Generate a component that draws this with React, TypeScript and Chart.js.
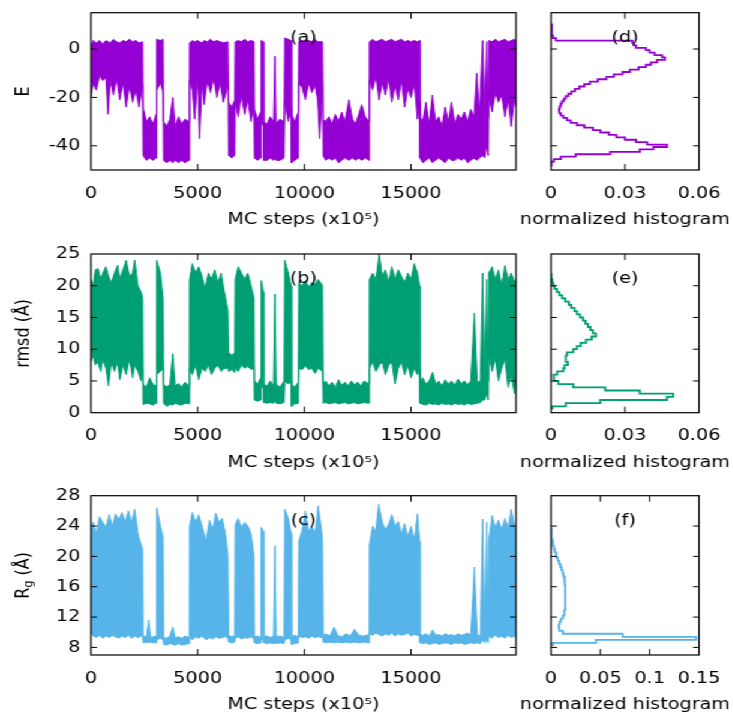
import React, { useEffect, useRef } from 'react';
import { Chart, registerables } from 'chart.js';
Chart.register(...registerables);

// ---------------- data ----------------
const STEP_TICKS = [0, 5000, 10000, 15000];
const STEP_MAX = 19920;
const E_TICKS = [-40, -20, 0];
const RMSD_TICKS = [0, 5, 10, 15, 20, 25];
const RG_TICKS = [8, 12, 16, 20, 24, 28];
const HIST_TICKS_DE = [0, 0.03, 0.06];
const HIST_TICKS_F = [0, 0.05, 0.1, 0.15];

// [MC step, upper envelope, lower envelope]
const E_TRACE: number[][] = [
  [0, 1, -20], [100, 3.5, -14], [250, 2.5, -17], [400, 3.5, -11], [550, 2, -13], [700, 3.5, -12],
  [800, 3, -27], [900, 2.5, -13], [1050, 4, -19], [1200, 3, -12], [1350, 2.5, -21], [1500, 3.5, -14],
  [1650, 3, -24], [1800, 4, -15], [1950, 3, -22], [2100, 3.5, -17], [2250, 2.5, -24], [2420, 3, -15],
  [2440, -24, -44], [2600, -30, -46], [2750, -28, -45], [2900, -31, -46], [3050, -27, -45],
  [3080, 4, -17], [3250, 3.5, -14], [3380, 4, -18],
  [3400, -30, -46], [3550, -32, -47], [3700, -29, -46], [3830, -20, -47], [3950, -32, -46], [4100, -28, -47],
  [4250, -31, -46], [4400, -29, -47], [4600, -30, -46],
  [4620, 2.5, -13], [4750, 3.5, -17], [4860, 3, -29], [5000, 3.5, -12], [5090, 3, -37], [5200, 2.5, -14],
  [5300, 3.5, -23], [5450, 3, -13], [5600, 4, -18], [5750, 3, -12], [5900, 3.5, -20], [6050, 3, -14],
  [6200, 2.5, -22], [6420, 3, -15],
  [6450, -22, -44], [6600, -24, -45], [6740, -21, -44],
  [6760, 3, -22], [6900, 3.5, -28], [7050, 3, -19], [7200, 4, -27], [7350, 3, -21], [7500, 3.5, -30], [7640, 3, -24],
  [7660, -25, -45], [7800, -29, -46], [7960, -26, -45],
  [7980, 3.5, -30], [8080, 3, -32],
  [8100, -30, -46], [8250, -31, -46], [8400, -28, -45], [8560, -30, -46], [8620, -3, -45], [8680, -31, -46],
  [8850, -29, -46], [9050, -30, -45],
  [9080, 4.5, -22], [9250, 4, -30], [9380, 3.5, -25],
  [9400, -27, -47], [9550, -30, -46], [9720, -26, -45],
  [9740, 3, -14], [9900, 3.5, -16], [10050, 3, -21], [10200, 3.5, -14], [10350, 3, -18], [10500, 4, -15],
  [10620, 3, -21], [10720, 3, -37], [10850, 3, -15],
  [10880, -29, -44], [11000, -30, -46], [11150, -28, -45], [11300, -31, -46], [11450, -27, -45], [11600, -30, -47],
  [11750, -26, -46], [11900, -30, -45], [12090, -21, -46], [12250, -29, -45], [12400, -31, -46], [12550, -27, -45],
  [12690, -23, -46], [12850, -28, -45], [13030, -30, -46],
  [13050, 3, -13], [13200, 4, -17], [13350, 3, -11], [13500, 3.5, -21], [13650, 4, -14], [13800, 3, -19],
  [13950, 3.5, -12], [14100, 4, -22], [14250, 3, -15], [14400, 3.5, -21], [14550, 4, -13], [14700, 3, -24],
  [14850, 3.5, -16], [15000, 3, -20], [15150, 3.5, -14], [15300, 3, -29], [15400, 3.5, -22],
  [15420, -28, -45], [15550, -30, -47], [15700, -22, -46], [15850, -31, -45], [16000, -19, -47], [16150, -30, -46],
  [16300, -28, -45], [16450, -32, -46], [16600, -24, -47], [16750, -30, -45], [16900, -22, -46], [17050, -31, -46],
  [17200, -27, -45], [17350, -29, -46], [17500, -26, -45], [17650, -30, -47], [17800, -25, -46], [17950, -28, -45],
  [18080, -10, -46], [18200, -27, -45], [18357, 3.5, -44], [18450, -26, -45], [18550, 3, -40], [18620, -28, -44],
  [18640, 3.5, -20], [18800, 3, -26], [18950, 4, -18], [19100, 3, -22], [19250, 3.5, -19], [19400, 4, -28],
  [19550, 3, -21], [19700, 3.5, -32], [19850, 4, -20], [19920, 3, -24],
];

const RMSD_TRACE: number[][] = [
  [0, 21, 8], [100, 20, 9], [200, 22.5, 7.5], [330, 22.7, 8], [450, 21, 6.5], [560, 22, 8.5], [700, 23, 7],
  [820, 21.5, 4.2], [950, 20.5, 8], [1100, 22, 6.5], [1250, 23.2, 8], [1350, 21, 5.2], [1500, 22.5, 7.5],
  [1650, 24, 6], [1800, 21.5, 8.5], [1950, 22, 5.5], [2050, 24, 7.5], [2200, 20, 6.5], [2350, 19, 5], [2420, 18, 7],
  [2440, 4.5, 1.3], [2600, 4, 1.5], [2750, 5.5, 1.4], [2900, 4.5, 1.2], [3050, 4.2, 1.5],
  [3080, 24, 6], [3250, 22, 6.5], [3380, 18, 7],
  [3400, 4.5, 1.5], [3550, 4, 1.0], [3700, 4.5, 1.3], [3830, 9.3, 1.2], [3950, 4.2, 1.5], [4100, 4.6, 1.3],
  [4250, 4, 1.2], [4400, 4.8, 1.5], [4600, 4.2, 1.4],
  [4620, 21, 7], [4750, 23.5, 6], [4900, 22, 7.5], [5050, 23, 5.2], [5200, 21.5, 7], [5350, 19.5, 6.5],
  [5500, 22, 7.5], [5650, 21, 6], [5800, 22.5, 7], [5950, 20.5, 7.5], [6100, 22, 6.5], [6250, 19, 7], [6420, 16, 7],
  [6450, 9.5, 6.5], [6600, 9, 6.8], [6740, 9.5, 6.3],
  [6760, 21, 7], [6900, 23, 6.5], [7050, 22, 7.5], [7200, 21, 7], [7350, 22, 7.3], [7500, 20, 6.8], [7640, 18, 7],
  [7660, 5, 2], [7800, 4.5, 1.8], [7960, 5.5, 2],
  [7980, 20.8, 4], [8080, 19, 4],
  [8100, 4.5, 1.6], [8250, 4.2, 1.5], [8400, 5, 1.6], [8560, 4.3, 1.5], [8620, 18.7, 2], [8680, 4.5, 1.5],
  [8850, 4, 1.4], [9050, 5, 1.6],
  [9080, 24, 5], [9250, 22, 4.5], [9380, 20, 5],
  [9400, 4.5, 1.0], [9550, 4, 1.4], [9720, 4.8, 1.5],
  [9740, 20.5, 7], [9900, 20, 6.8], [10050, 20.8, 7.4], [10200, 19.8, 6.8], [10350, 20.5, 7], [10500, 20.3, 6.2],
  [10650, 21, 7], [10850, 20, 6.5],
  [10880, 4.5, 1.5], [11000, 5, 1.6], [11150, 4.2, 1.4], [11300, 4.8, 1.5], [11450, 4, 1.6], [11600, 5.2, 1.4],
  [11750, 4.3, 1.5], [11900, 4.8, 1.6], [12050, 4.2, 1.4], [12200, 5, 1.5], [12350, 4.4, 1.6], [12500, 4.8, 1.4],
  [12650, 4.2, 1.5], [12800, 5, 1.6], [13030, 4.5, 1.5],
  [13050, 21, 7], [13200, 22, 8], [13350, 21, 6.5], [13510, 25, 7.5], [13650, 21.5, 8], [13800, 22.5, 6],
  [13950, 20.5, 7.5], [14100, 23, 8], [14250, 21, 4.5], [14400, 22.5, 7], [14550, 21.5, 8], [14700, 20.5, 6],
  [14850, 22, 7.5], [15000, 21, 5.5], [15150, 23.5, 7], [15300, 22, 6], [15400, 20, 7],
  [15420, 4.5, 1.5], [15550, 5.5, 1.3], [15700, 4.5, 1.2], [15850, 5, 1.5], [16015, 6.4, 1.3], [16150, 4.5, 1.4],
  [16300, 5, 1.2], [16450, 4.2, 1.5], [16600, 5.2, 1.3], [16750, 4.5, 1.4], [16900, 5, 1.2], [17050, 4.3, 1.5],
  [17200, 5.3, 1.3], [17350, 4.6, 1.4], [17500, 5, 1.2], [17650, 4.4, 1.5], [17800, 5, 1.3], [17970, 15.7, 1.4],
  [18100, 4.8, 1.5], [18250, 5, 1.6], [18357, 22, 2], [18450, 5, 2], [18550, 21, 3], [18620, 5, 2],
  [18640, 22, 9], [18800, 23, 6.5], [18950, 21, 8.5], [19100, 22.5, 5], [19250, 20, 7], [19400, 23.2, 8.5],
  [19550, 21, 4], [19700, 22, 6], [19850, 20.5, 3], [19920, 21, 5],
];

const RG_TRACE: number[][] = [
  [0, 23.5, 10], [100, 24.5, 9.5], [250, 23, 9.3], [400, 25.2, 9.6], [550, 24.5, 9.2], [700, 23.8, 9.5],
  [850, 25.5, 9.3], [1000, 24, 9.6], [1150, 25.6, 9.4], [1300, 24.8, 9.2], [1450, 25.8, 9.5], [1600, 24.5, 9.3],
  [1750, 26, 9.6], [1900, 24.5, 9.2], [2050, 26.2, 9.5], [2200, 23, 9.3], [2350, 21.5, 9.5], [2420, 21, 9.4],
  [2440, 9.5, 8.6], [2600, 9.4, 8.7], [2700, 11.6, 8.6], [2800, 9.3, 8.7], [3050, 9.5, 8.6],
  [3080, 26.4, 9], [3250, 24, 9.2], [3380, 22.5, 9],
  [3400, 9.3, 8.4], [3550, 9.2, 8.3], [3700, 9.5, 8.5], [3830, 10.7, 8.4], [3950, 9.3, 8.3], [4100, 9.4, 8.5],
  [4250, 9.2, 8.3], [4400, 9.5, 8.4], [4600, 9.3, 8.5],
  [4620, 24, 9.3], [4750, 25.8, 9], [4900, 24.5, 9.4], [5050, 25.5, 9.2], [5200, 24, 9.5], [5400, 22, 9],
  [5550, 24.8, 9.3], [5700, 23.5, 9.1], [5850, 25.7, 9.4], [6000, 24.5, 9.2], [6150, 25, 9.3], [6300, 23, 9.4],
  [6420, 20, 9.2],
  [6450, 9.6, 8.7], [6600, 9.4, 8.6], [6740, 9.6, 8.7],
  [6760, 24.2, 9.2], [6900, 25, 9.4], [7050, 23.8, 9.1], [7200, 24.5, 9.3], [7350, 24, 9.2], [7500, 23, 9.4],
  [7640, 20, 9.1],
  [7660, 9.4, 8.6], [7800, 9.5, 8.5], [7960, 9.3, 8.6],
  [7980, 23.8, 9], [8080, 23.3, 9],
  [8100, 9.4, 8.6], [8250, 9.5, 8.5], [8400, 9.3, 8.6], [8560, 9.5, 8.5], [8620, 21.4, 8.6], [8680, 9.4, 8.5],
  [8850, 9.5, 8.6], [9050, 9.3, 8.5],
  [9080, 26.2, 9], [9250, 25, 9.2], [9380, 23, 9],
  [9400, 9.4, 8.4], [9550, 9.6, 8.5], [9720, 9.4, 8.6],
  [9740, 22, 9.5], [9900, 23.5, 9.3], [10050, 26, 9.4], [10200, 23.3, 9.2], [10350, 24, 9.5], [10500, 23, 9.3],
  [10650, 26.7, 9.4], [10800, 23.5, 9.3], [10850, 22, 9.4],
  [10880, 9.6, 8.7], [11000, 9.8, 8.6], [11200, 9.5, 8.7], [11400, 10.7, 8.6], [11550, 9.6, 8.7], [11750, 9.4, 8.6],
  [11950, 9.8, 8.7], [12150, 9.5, 8.6], [12350, 10.4, 8.7], [12550, 9.6, 8.6], [12750, 9.5, 8.7], [13030, 9.7, 8.6],
  [13050, 21.5, 9.8], [13200, 24, 9.6], [13350, 23.3, 9.9], [13480, 26.9, 9.7], [13650, 24.5, 9.5], [13800, 23.5, 9.8],
  [13950, 24.2, 9.6], [14100, 25.5, 9.9], [14250, 24, 9.5], [14400, 24.6, 9.8], [14550, 23, 9.6], [14700, 24.3, 9.7],
  [14850, 22.5, 9.9], [15000, 24, 9.5], [15150, 22, 9.7], [15300, 25.6, 9.6], [15400, 22, 9.5],
  [15420, 9.8, 8.6], [15550, 9.6, 8.5], [15700, 9.8, 8.6], [15850, 9.5, 8.4], [16015, 10.3, 8.5], [16150, 9.6, 8.6],
  [16300, 9.7, 8.4], [16450, 9.5, 8.5], [16600, 9.8, 8.6], [16750, 9.6, 8.5], [16900, 9.7, 8.4], [17050, 9.5, 8.6],
  [17200, 9.8, 8.5], [17350, 9.6, 8.6], [17500, 9.7, 8.4], [17650, 9.9, 8.5], [17800, 9.6, 8.6], [17970, 18.6, 8.5],
  [18100, 9.7, 8.6], [18250, 9.5, 8.5], [18357, 24.9, 9], [18450, 9.7, 8.6], [18550, 24.5, 9], [18620, 9.6, 8.6],
  [18640, 22, 9.5], [18800, 25.4, 9.2], [18950, 23.8, 9.6], [19100, 24.8, 9.3], [19250, 23.5, 9.5], [19400, 25, 9.2],
  [19550, 23.8, 9.6], [19700, 26.2, 9.3], [19850, 24, 9.5], [19920, 23.5, 9.2],
];

// [bin centre, normalized count]
const E_HIST_BIN = 1;
const E_HIST: number[][] = [
  [10, 0.0003], [9, 0.0003], [8, 0.0003], [7, 0.0003], [6, 0.0004], [5, 0.0008], [4, 0.002], [3, 0.033],
  [2, 0.0335], [1, 0.0345], [0, 0.0385], [-1, 0.04], [-2, 0.042], [-3, 0.045], [-4, 0.0462], [-5, 0.043],
  [-6, 0.0405], [-7, 0.0385], [-8, 0.0355], [-9, 0.032], [-10, 0.029], [-11, 0.0255], [-12, 0.0225], [-13, 0.019],
  [-14, 0.0158], [-15, 0.0135], [-16, 0.0115], [-17, 0.0097], [-18, 0.0083], [-19, 0.007], [-20, 0.006],
  [-21, 0.0052], [-22, 0.0045], [-23, 0.004], [-24, 0.0036], [-25, 0.0033], [-26, 0.0034], [-27, 0.004],
  [-28, 0.005], [-29, 0.0065], [-30, 0.008], [-31, 0.0105], [-32, 0.0135], [-33, 0.017], [-34, 0.02],
  [-35, 0.0235], [-36, 0.0265], [-37, 0.03], [-38, 0.0345], [-39, 0.039], [-40, 0.047], [-41, 0.0415],
  [-42, 0.036], [-43, 0.024], [-44, 0.01], [-45, 0.004], [-46, 0.0012], [-47, 0.0003], [-48, 0],
];

const RMSD_HIST_BIN = 0.5;
const RMSD_HIST: number[][] = [
  [21.75, 0.0001], [21.25, 0.0002], [20.75, 0.0005], [20.25, 0.0009], [19.75, 0.0014], [19.25, 0.0024],
  [18.75, 0.0034], [18.25, 0.0045], [17.75, 0.0058], [17.25, 0.0072], [16.75, 0.0082], [16.25, 0.0095],
  [15.75, 0.0105], [15.25, 0.0118], [14.75, 0.013], [14.25, 0.014], [13.75, 0.015], [13.25, 0.016],
  [12.75, 0.017], [12.25, 0.0182], [11.75, 0.0165], [11.25, 0.0142], [10.75, 0.012], [10.25, 0.0105],
  [9.75, 0.009], [9.25, 0.0065], [8.75, 0.006], [8.25, 0.006], [7.75, 0.0068], [7.25, 0.0055], [6.75, 0.005],
  [6.25, 0.0025], [5.75, 0.0011], [5.25, 0.0012], [4.75, 0.003], [4.25, 0.009], [3.75, 0.022], [3.25, 0.036],
  [2.75, 0.0495], [2.25, 0.047], [1.75, 0.02], [1.25, 0.006], [0.75, 0.0005],
];

const RG_HIST_BIN = 0.4;
const RG_HIST: number[][] = [
  [23.6, 0], [23.2, 0.0002], [22.8, 0.0005], [22.4, 0.0009], [22.0, 0.0015], [21.6, 0.0022], [21.2, 0.0029],
  [20.8, 0.0037], [20.4, 0.0047], [20.0, 0.0058], [19.6, 0.007], [19.2, 0.0082], [18.8, 0.0095], [18.4, 0.0107],
  [18.0, 0.0117], [17.6, 0.0125], [17.2, 0.0133], [16.8, 0.014], [16.4, 0.0143], [16.0, 0.0145], [15.6, 0.0145],
  [15.2, 0.0145], [14.8, 0.0145], [14.4, 0.0146], [14.0, 0.0146], [13.6, 0.0146], [13.2, 0.0145], [12.8, 0.014],
  [12.4, 0.0133], [12.0, 0.012], [11.6, 0.0101], [11.2, 0.0088], [10.8, 0.0078], [10.4, 0.0085], [10.0, 0.012],
  [9.6, 0.0726], [9.2, 0.147], [8.8, 0.0456], [8.4, 0.002],
];

// ---------------- layout / style ----------------
const S = 1.2; // horizontal stretch of the reference
const FONT = "'DejaVu Sans', sans-serif";
const E_COLOR = '#9400d3';
const RMSD_COLOR = '#009e73';
const RG_COLOR = '#56b4e9';
const X_TITLE_LEFT = 'MC steps (x10\u2075)';
const X_TITLE_RIGHT = 'normalized histogram';

const ROWS = [
  { top: 0, h: 240, aTop: 12.7, aBot: 170 },
  { top: 240, h: 240, aTop: 14, aBot: 172.7 },
  { top: 480, h: 237, aTop: 15.7, aBot: 175 },
];
const COLS = [
  { left: 0, w: 442, aLeft: 91 / S, aRight: 516 / S },
  { left: 400, w: 211, aLeft: 551 / S - 400, aRight: 699 / S - 400 },
];

type TitlePart = { t: string; sub?: boolean };
type Panel = {
  kind: 'trace' | 'hist'; row: number; col: number; color: string;
  series: number[][]; bin?: number;
  yMin: number; yMax: number; yTicks: number[];
  xMin: number; xMax: number; xTicks: number[];
  label: string; xTitle: string; yTitle?: TitlePart[];
};

const PANELS: Panel[] = [
  { kind: 'trace', row: 0, col: 0, color: E_COLOR, series: E_TRACE, yMin: -50, yMax: 15, yTicks: E_TICKS,
    xMin: 0, xMax: STEP_MAX, xTicks: STEP_TICKS, label: '(a)', xTitle: X_TITLE_LEFT, yTitle: [{ t: 'E' }] },
  { kind: 'hist', row: 0, col: 1, color: E_COLOR, series: E_HIST, bin: E_HIST_BIN, yMin: -50, yMax: 15, yTicks: E_TICKS,
    xMin: 0, xMax: 0.06, xTicks: HIST_TICKS_DE, label: '(d)', xTitle: X_TITLE_RIGHT },
  { kind: 'trace', row: 1, col: 0, color: RMSD_COLOR, series: RMSD_TRACE, yMin: 0, yMax: 25, yTicks: RMSD_TICKS,
    xMin: 0, xMax: STEP_MAX, xTicks: STEP_TICKS, label: '(b)', xTitle: X_TITLE_LEFT, yTitle: [{ t: 'rmsd (Å)' }] },
  { kind: 'hist', row: 1, col: 1, color: RMSD_COLOR, series: RMSD_HIST, bin: RMSD_HIST_BIN, yMin: 0, yMax: 25, yTicks: RMSD_TICKS,
    xMin: 0, xMax: 0.06, xTicks: HIST_TICKS_DE, label: '(e)', xTitle: X_TITLE_RIGHT },
  { kind: 'trace', row: 2, col: 0, color: RG_COLOR, series: RG_TRACE, yMin: 7, yMax: 28, yTicks: RG_TICKS,
    xMin: 0, xMax: STEP_MAX, xTicks: STEP_TICKS, label: '(c)', xTitle: X_TITLE_LEFT,
    yTitle: [{ t: 'R' }, { t: 'g', sub: true }, { t: ' (Å)' }] },
  { kind: 'hist', row: 2, col: 1, color: RG_COLOR, series: RG_HIST, bin: RG_HIST_BIN, yMin: 7, yMax: 28, yTicks: RG_TICKS,
    xMin: 0, xMax: 0.15, xTicks: HIST_TICKS_F, label: '(f)', xTitle: X_TITLE_RIGHT },
];

const fmt = (v: any) => String(Math.round(Number(v) * 10000) / 10000);

function drawYTitle(ctx: CanvasRenderingContext2D, parts: TitlePart[], x: number, y: number) {
  ctx.save();
  ctx.translate(x, y);
  ctx.rotate(-Math.PI / 2);
  ctx.textAlign = 'left';
  ctx.textBaseline = 'middle';
  const fontFor = (p: TitlePart) => (p.sub ? `11px ${FONT}` : `16px ${FONT}`);
  let total = 0;
  const widths = parts.map((p) => { ctx.font = fontFor(p); const w = ctx.measureText(p.t).width; total += w; return w; });
  let cx = -total / 2;
  parts.forEach((p, i) => {
    ctx.font = fontFor(p);
    ctx.fillText(p.t, cx, p.sub ? 4 : 0);
    cx += widths[i];
  });
  ctx.restore();
}

function decoPlugin(p: Panel) {
  return {
    id: 'deco',
    afterDraw(chart: any) {
      const { ctx, chartArea: a, scales } = chart;
      const xs = scales.x, ys = scales.y;
      ctx.save();
      ctx.strokeStyle = '#000';
      ctx.lineWidth = 1;
      const TLX = 6 / S, TLY = 6;
      ctx.beginPath();
      for (const v of p.xTicks) {
        const px = xs.getPixelForValue(v);
        if (px <= a.left + 0.5 || px >= a.right - 0.5) continue;
        ctx.moveTo(px, a.bottom); ctx.lineTo(px, a.bottom - TLY);
        ctx.moveTo(px, a.top); ctx.lineTo(px, a.top + TLY);
      }
      for (const v of p.yTicks) {
        const py = ys.getPixelForValue(v);
        if (py <= a.top + 0.5 || py >= a.bottom - 0.5) continue;
        ctx.moveTo(a.left, py); ctx.lineTo(a.left + TLX, py);
        ctx.moveTo(a.right, py); ctx.lineTo(a.right - TLX, py);
      }
      ctx.stroke();
      ctx.lineWidth = 1.2;
      ctx.strokeRect(a.left, a.top, a.right - a.left, a.bottom - a.top);
      ctx.fillStyle = '#000';
      ctx.font = `16px ${FONT}`;
      ctx.textAlign = 'center';
      ctx.textBaseline = 'middle';
      const cx = (a.left + a.right) / 2;
      ctx.fillText(p.label, cx, a.top + 25);
      ctx.fillText(p.xTitle, cx, a.bottom + 50);
      if (p.yTitle) drawYTitle(ctx, p.yTitle, 24 / S, (a.top + a.bottom) / 2);
      ctx.restore();
    },
  };
}

function buildConfig(p: Panel): any {
  const row = ROWS[p.row];
  const col = COLS[p.col];
  let datasets: any[];
  if (p.kind === 'trace') {
    datasets = [
      { data: p.series.map((t) => ({ x: t[0], y: t[1] })), borderColor: p.color, borderWidth: 1, pointRadius: 0, fill: false },
      { data: p.series.map((t) => ({ x: t[0], y: t[2] })), borderColor: p.color, borderWidth: 1, pointRadius: 0,
        fill: '-1', backgroundColor: p.color },
    ];
  } else {
    const w = p.bin || 1;
    const pts: { x: number; y: number }[] = [];
    p.series.forEach((b) => { pts.push({ x: b[1], y: b[0] + w / 2 }); pts.push({ x: b[1], y: b[0] - w / 2 }); });
    datasets = [{ data: pts, borderColor: p.color, borderWidth: 1.8, pointRadius: 0, fill: false }];
  }
  const tickFont = { family: FONT, size: 16 };
  return {
    type: 'line',
    data: { datasets },
    options: {
      responsive: false,
      animation: false,
      events: [],
      layout: { padding: { top: row.aTop, right: col.w - col.aRight, left: 0, bottom: 0 } },
      plugins: { legend: { display: false }, tooltip: { enabled: false }, title: { display: false } },
      elements: { line: { tension: 0 } },
      scales: {
        x: {
          type: 'linear', min: p.xMin, max: p.xMax,
          grid: { display: false, drawTicks: false }, border: { display: false },
          ticks: { padding: 14, font: tickFont, color: '#000', callback: fmt, maxRotation: 0, autoSkip: false },
          afterBuildTicks: (sc: any) => { sc.ticks = p.xTicks.map((v) => ({ value: v })); },
          afterFit: (sc: any) => { sc.height = row.h - row.aBot; sc.paddingLeft = 0; sc.paddingRight = 0; },
        },
        y: {
          type: 'linear', min: p.yMin, max: p.yMax,
          grid: { display: false, drawTicks: false }, border: { display: false },
          ticks: { display: p.kind === 'trace', padding: 9, font: tickFont, color: '#000', callback: fmt, autoSkip: false },
          afterBuildTicks: (sc: any) => { sc.ticks = p.yTicks.map((v) => ({ value: v })); },
          afterFit: (sc: any) => { sc.width = col.aLeft; sc.paddingTop = 0; sc.paddingBottom = 0; },
        },
      },
    },
    plugins: [decoPlugin(p)],
  };
}

export default function App() {
  const refs = useRef<(HTMLCanvasElement | null)[]>([]);
  useEffect(() => {
    const charts = PANELS.map((p, i) => new Chart(refs.current[i] as HTMLCanvasElement, buildConfig(p)));
    return () => charts.forEach((c) => c.destroy());
  }, []);
  return (
    <div style={{ position: 'absolute', left: 0, top: 0, width: 733 / S, height: 717, transform: `scaleX(${S})`,
      transformOrigin: '0 0', background: '#fff', overflow: 'hidden' }}>
      {PANELS.map((p, i) => {
        const row = ROWS[p.row];
        const col = COLS[p.col];
        return (
          <canvas key={i} ref={(el) => { refs.current[i] = el; }} width={col.w} height={row.h}
            style={{ position: 'absolute', left: col.left, top: row.top, width: col.w, height: row.h }} />
        );
      })}
    </div>
  );
}
